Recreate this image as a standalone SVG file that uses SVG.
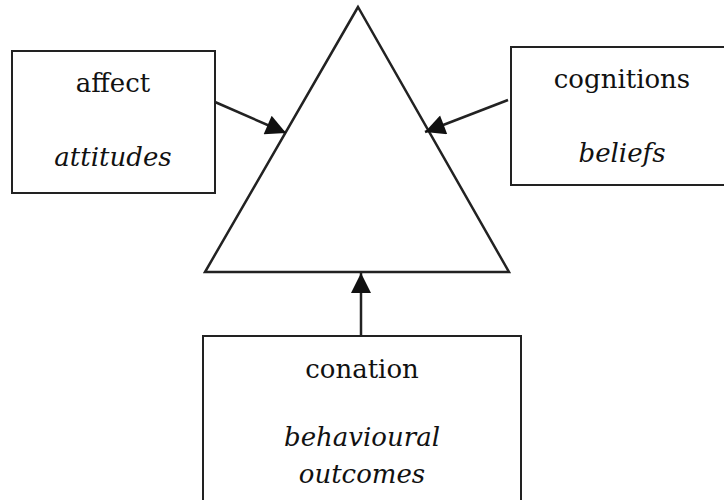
<svg xmlns="http://www.w3.org/2000/svg" width="724" height="500" viewBox="0 0 724 500">
<style>
.box{fill:#fff;stroke:#222;stroke-width:2}
.t{font-family:"DejaVu Serif","Liberation Serif",serif;font-size:26px;fill:#111;text-anchor:middle}
.i{font-style:italic}
.c{stroke:#222;stroke-width:2.5;fill:none}
</style>
<defs>
<marker id="ah" viewBox="0 0 10 10" refX="10" refY="5" markerWidth="9" markerHeight="8" markerUnits="strokeWidth" orient="auto">
<path d="M0,0 L10,5 L0,10 Z" fill="#111"/>
</marker>
</defs>
<rect width="724" height="500" fill="#fff"/>
<g id="attitude">
<polygon points="358,7 205,272 509,272" fill="#fff" stroke="#222" stroke-width="2.5"/>
</g>
<g id="affect">
<rect class="box" x="12" y="51" width="203" height="142"/>
<text class="t" x="113" y="92">affect</text>
<text class="t i" x="113" y="166">attitudes</text>
</g>
<g id="cognitions">
<rect class="box" x="511" y="47" width="220" height="138"/>
<text class="t" x="622" y="88">cognitions</text>
<text class="t i" x="622" y="162">beliefs</text>
</g>
<g id="conation">
<rect class="box" x="203" y="336" width="318" height="180"/>
<text class="t" x="362" y="378">conation</text>
<text class="t i" x="362" y="446">behavioural</text>
<text class="t i" x="362" y="483">outcomes</text>
</g>
<g id="connectors">
<line class="c" x1="215" y1="102" x2="286" y2="133" marker-end="url(#ah)"/>
<line class="c" x1="508" y1="100" x2="425" y2="132" marker-end="url(#ah)"/>
<line class="c" x1="361" y1="336" x2="361" y2="273" marker-end="url(#ah)"/>
</g>
</svg>
